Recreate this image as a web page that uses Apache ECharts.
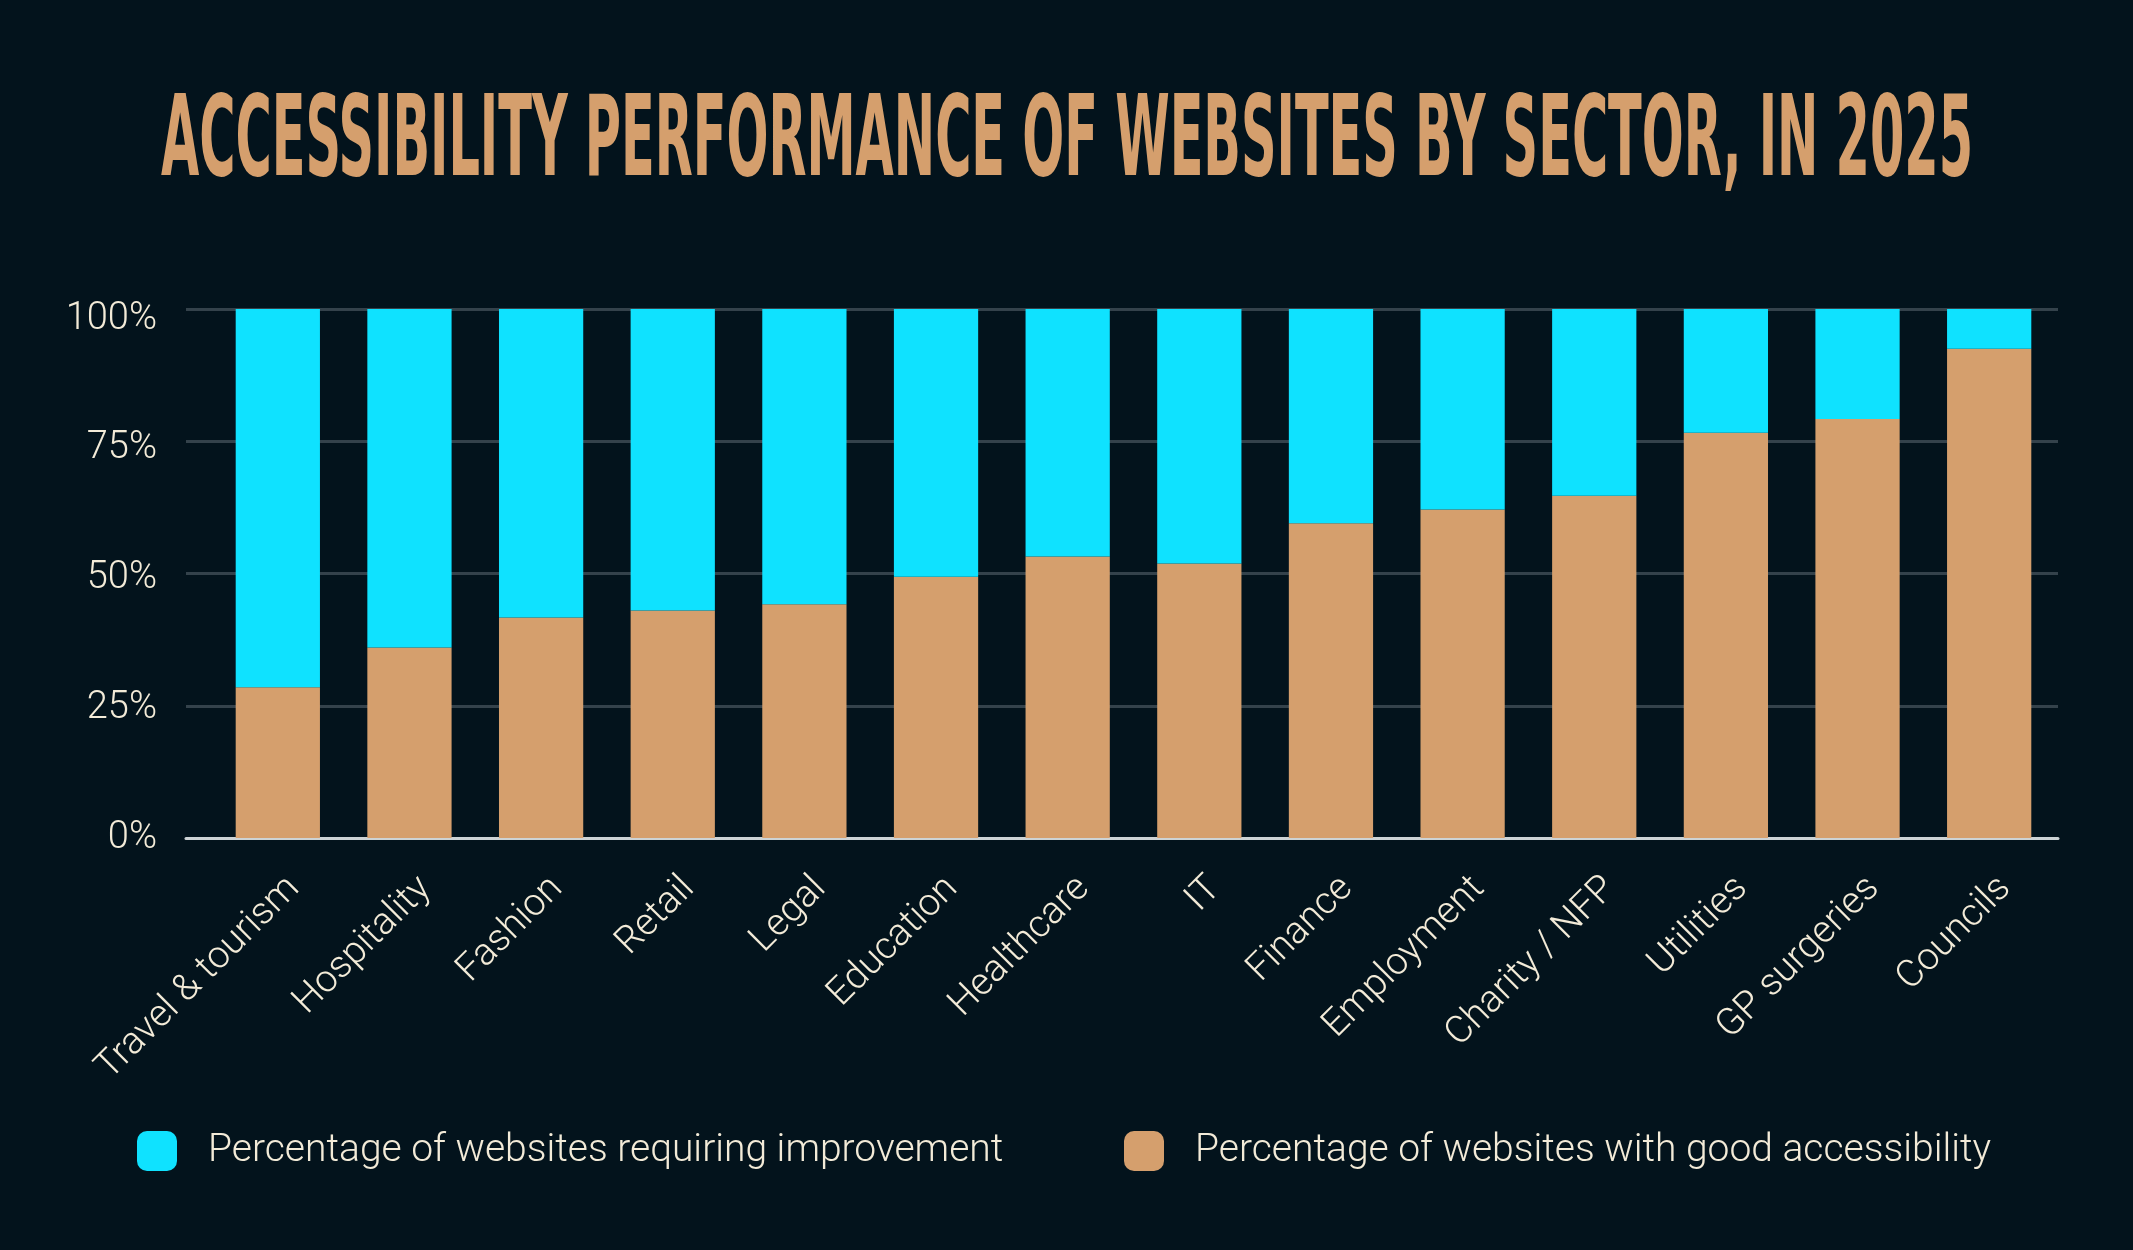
<!DOCTYPE html>
<html><head><meta charset="utf-8">
<script src="https://cdn.jsdelivr.net/npm/echarts@6/dist/echarts.min.js"></script>
<style>html,body{margin:0;padding:0;background:#03131c;}#c{width:2133px;height:1250px;}</style>
</head><body><div id="c"></div>
<script>
const titleText = 'ACCESSIBILITY PERFORMANCE OF WEBSITES BY SECTOR, IN 2025';
const categories = ['Travel & tourism','Hospitality','Fashion','Retail','Legal','Education','Healthcare','IT','Finance','Employment','Charity / NFP','Utilities','GP surgeries','Councils'];
const goodValues = [28.5, 36, 41.7, 43, 44.2, 49.4, 53.2, 51.9, 59.5, 62.1, 64.7, 76.6, 79.2, 92.5];
const improveValues = [71.5, 64, 58.3, 57, 55.8, 50.6, 46.8, 48.1, 40.5, 37.9, 35.3, 23.4, 20.8, 7.5];
const seriesNames = ['Percentage of websites requiring improvement', 'Percentage of websites with good accessibility'];

const BG = '#03131c', CYAN = '#0fe2ff', TAN = '#d59f6d', CREAM = '#f3ebd8';
const chart = echarts.init(document.getElementById('c'), null, {renderer: 'canvas'});

const titleFont = 'bold 112px "Liberation Sans Narrow", "DejaVu Sans Condensed", sans-serif';
const ctx = document.createElement('canvas').getContext('2d');
ctx.font = titleFont;
const tw = ctx.measureText(titleText).width;
const sx = 1812 / tw;

const labelFont = {fontFamily: 'Roboto', fontWeight: 300, color: CREAM};

chart.setOption({
  backgroundColor: BG,
  animation: false,
  graphic: [{
    type: 'text', x: 161, y: 146, scaleX: sx, scaleY: 1,
    style: {text: titleText, font: titleFont, fill: TAN,
      textAlign: 'left', textVerticalAlign: 'middle', align: 'left', verticalAlign: 'middle'}
  }],
  grid: [
    {left: 186, right: 75, top: 309, bottom: 412},
    {left: 212, right: 78, top: 309, bottom: 412},
    {left: 228, right: 62, top: 309, bottom: 412},
    {left: 186, right: 75, top: 319, bottom: 411.5}
  ],
  xAxis: [
    {gridIndex: 0, type: 'category', data: categories,
      axisLine: {show: true, lineStyle: {color: '#cdd3d5', width: 3}},
      axisTick: {show: false}, axisLabel: {show: false}, splitLine: {show: false}},
    {gridIndex: 1, type: 'category', data: categories, show: false},
    {gridIndex: 2, type: 'category', data: categories,
      axisLine: {show: false}, axisTick: {show: false}, splitLine: {show: false},
      axisLabel: Object.assign({show: true, rotate: 45, margin: 45, fontSize: 38, interval: 0}, labelFont)},
    {gridIndex: 3, type: 'category', data: categories, show: false}
  ],
  yAxis: [
    {gridIndex: 0, type: 'value', min: 0, max: 100, interval: 25,
      axisLine: {show: false}, axisTick: {show: false}, axisLabel: {show: false},
      splitLine: {show: true, lineStyle: {color: '#34424b', width: 3}}},
    {gridIndex: 1, type: 'value', min: 0, max: 100, show: false, splitLine: {show: false}},
    {gridIndex: 2, type: 'value', min: 0, max: 100, show: false, splitLine: {show: false}},
    {gridIndex: 3, type: 'value', min: 0, max: 100, interval: 25,
      axisLine: {show: false}, axisTick: {show: false}, splitLine: {show: false},
      axisLabel: Object.assign({formatter: '{value}%', fontSize: 38, margin: 29}, labelFont)}
  ],
  legend: [
    {left: 137, top: 1131, padding: 0, itemWidth: 40, itemHeight: 40, icon: 'roundRect',
      data: [seriesNames[0]], selectedMode: false,
      textStyle: Object.assign({fontSize: 39, padding: [14, 0, 0, 26]}, labelFont)},
    {left: 1124, top: 1131, padding: 0, itemWidth: 40, itemHeight: 40, icon: 'roundRect',
      data: [seriesNames[1]], selectedMode: false,
      textStyle: Object.assign({fontSize: 39, padding: [14, 0, 0, 26]}, labelFont)}
  ],
  series: [
    {name: seriesNames[1], type: 'bar', stack: 'all', xAxisIndex: 1, yAxisIndex: 1,
      data: goodValues, barWidth: '64%', itemStyle: {color: TAN}},
    {name: seriesNames[0], type: 'bar', stack: 'all', xAxisIndex: 1, yAxisIndex: 1,
      data: improveValues, barWidth: '64%', itemStyle: {color: CYAN}}
  ]
});
</script>
</body></html>
